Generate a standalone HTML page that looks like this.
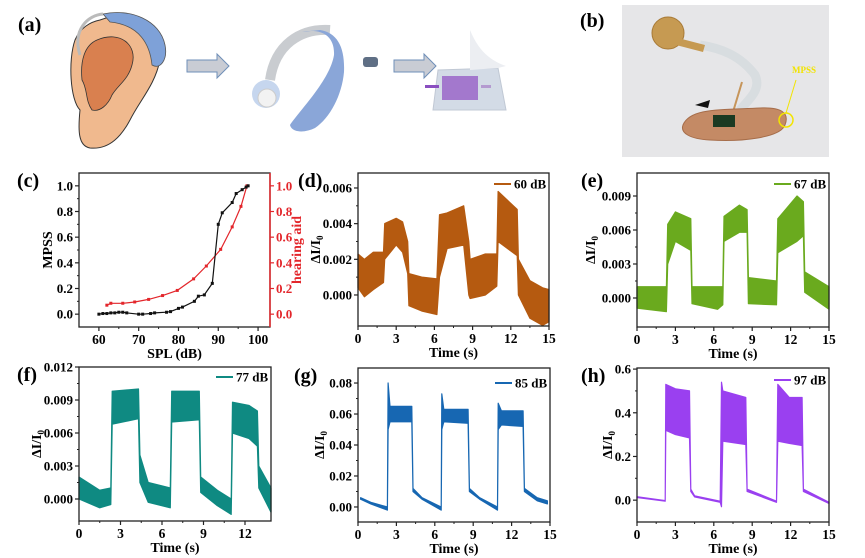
<!DOCTYPE html>
<html><head><meta charset="utf-8">
<style>
html,body{margin:0;padding:0;background:#fff;}
svg{display:block;}
text{font-family:"Liberation Serif",serif;font-weight:bold;}
</style></head>
<body>
<svg id="fig" width="865" height="558" viewBox="0 0 865 558" xmlns="http://www.w3.org/2000/svg">
  <g>
    <text x="18" y="31" font-size="20">(a)</text>
    <g>
      <path d="M100,20 C140,5 168,30 160,60 C155,85 140,100 130,120 C122,135 110,150 90,148 C78,146 78,130 80,110 C70,100 68,60 75,40 C80,28 90,22 100,20 Z" fill="#f0b98e" stroke="#333" stroke-width="1"/>
      <path d="M97,40 C120,30 138,45 132,65 C128,80 118,85 112,95 C108,105 100,112 92,110 C85,100 88,90 82,80 C80,60 85,45 97,40 Z" fill="#d9804f" stroke="#333" stroke-width="0.8"/>
      <path d="M103,14 C130,8 160,20 165,45 C168,60 160,70 152,65 C150,45 140,25 110,22 Z" fill="#7ea1d8" stroke="#555" stroke-width="0.8"/>
      <path d="M80,55 C72,30 88,15 103,14" fill="none" stroke="#bbb" stroke-width="3"/>
    </g>
    <path d="M187,60 h30 v-6 l12,12 l-12,12 v-6 h-30 z" fill="#c9ccd4" stroke="#6f8fb8" stroke-width="1"/>
    <g>
      <path d="M270,80 C275,45 300,28 330,30" fill="none" stroke="#c9ccd0" stroke-width="10"/>
      <path d="M302,32 C320,28 335,35 334,55 C330,80 300,110 290,125 C292,133 305,133 315,128 C330,118 342,95 344,72 C345,48 338,33 320,30 Z" fill="#8aa6d8"/>
      <circle cx="266" cy="94" r="14" fill="#c6d6ee"/>
      <circle cx="267" cy="98" r="9" fill="#f2f2f2" stroke="#ccc"/>
      <rect x="363" y="57" width="15" height="10" rx="3" fill="#5f6f85"/>
    </g>
    <path d="M394,60 h30 v-6 l12,12 l-12,12 v-6 h-30 z" fill="#c9ccd4" stroke="#6f8fb8" stroke-width="1"/>
    <g>
      <path d="M438,70 L498,68 L506,110 L433,110 Z" fill="#d3dbe6" stroke="#c0c8d4"/>
      <path d="M470,30 C480,55 495,62 506,66 L498,68 L470,70 Z" fill="#eceef2"/>
      <rect x="442" y="76" width="36" height="24" fill="#9a66c8" opacity="0.85"/>
      <rect x="425" y="85" width="14" height="3" fill="#8a4fc0"/>
      <rect x="481" y="85" width="10" height="3" fill="#b49ad0"/>
    </g>
  </g>
  <g>
    <text x="580" y="27" font-size="20">(b)</text>
    <rect x="622" y="5" width="207" height="152" fill="#e6e6e8"/>
    <path d="M700,45 C720,48 740,55 755,75 C762,90 748,100 740,110" fill="none" stroke="#d8dde0" stroke-width="9"/>
    <circle cx="668" cy="33" r="16" fill="#c69a52" stroke="#a87a36"/>
    <path d="M678,38 L705,45 L703,52 L676,45 Z" fill="#c69a52"/>
    <path d="M742,82 L733,112" stroke="#c6955a" stroke-width="2"/>
    <path d="M683,125 C690,108 720,110 760,108 C780,107 790,112 785,125 C780,138 740,142 710,140 C690,139 680,133 683,125 Z" fill="#c48a65" stroke="#a66d4a"/>
    <rect x="713" y="115" width="22" height="12" fill="#1b3a22"/>
    <path d="M695,105 L710,100 L708,108 Z" fill="#111"/>
    <circle cx="786" cy="120" r="7" fill="none" stroke="#f2e400" stroke-width="1.5"/>
    <path d="M786,113 L796,80" stroke="#f2e400" stroke-width="1"/>
    <text x="792" y="73" font-size="9" fill="#f2e400">MPSS</text>
  </g>
  <g id="charts"></g>
</svg>
<script>
const cMpssX = [60,61,62,63,64,65,66,67,70,71,73,74,77,78,80,81,84,85,86.5,88.5,90,91,93.5,94.5,96,97,97.5];
const cMpssY = [0.0,0.005,0.005,0.01,0.01,0.015,0.015,0.01,0.0,0.0,0.005,0.01,0.015,0.02,0.045,0.055,0.1,0.14,0.15,0.24,0.7,0.79,0.87,0.94,0.97,0.99,1.0];
const cAidX = [62,63,66,69,72.5,76,79.7,83.8,87,90.6,93.5,95.7,97.2];
const cAidY = [0.07,0.085,0.085,0.095,0.115,0.145,0.185,0.275,0.375,0.505,0.68,0.84,1.0];
const cXTicks = [60,70,80,90,100];
const cXTickLabels = ["60","70","80","90","100"];
const cYTicks = [0,0.2,0.4,0.6,0.8,1.0];
const cYTickLabels = ["0.0","0.2","0.4","0.6","0.8","1.0"];

const dT  = [0,0.5,1.2,2.0,2.1,3.0,3.5,3.9,4.0,5.0,6.2,6.4,7.0,8.3,8.7,8.8,10,10.9,11.0,12.5,12.6,13.5,14.5,15];
const dHi = [2.3,2.0,2.4,2.4,4.0,4.3,4.1,3.0,1.2,1.0,0.9,4.5,4.6,5.0,3.0,2.0,2.3,2.3,5.8,4.8,2.0,0.8,0.4,0.3];
const dLo = [0.4,-0.1,0.3,0.7,2.0,2.8,2.4,1.2,-0.6,-0.9,-1.1,1.0,2.6,2.8,0.0,-0.2,0.0,0.5,3.0,2.2,0.0,-1.3,-1.7,-1.5];
const dYTicks = [0,2,4,6];
const dYTickLabels = ["0.000","0.002","0.004","0.006"];

const eT  = [0,2.3,2.4,3.0,4.2,4.3,6.3,6.7,6.8,8.0,8.6,8.7,10.9,11.0,12.5,13.0,13.1,15];
const eHi = [1.0,1.0,6.5,7.6,7.0,1.0,1.0,1.0,7.2,8.2,7.8,1.8,1.5,7.0,9.0,8.5,2.3,1.0];
const eLo = [-0.9,-1.2,3.0,5.0,4.2,-0.5,-1.0,-0.6,5.0,5.8,5.8,-0.5,-0.6,4.0,5.0,5.5,0.5,-1.0];
const eYTicks = [0,3,6,9];
const eYTickLabels = ["0.000","0.003","0.006","0.009"];

const fT  = [0,1.5,2.3,2.4,4.3,4.4,5.0,6.6,6.7,8.7,8.8,10,11,11.1,12.3,12.9,13.0,13.88];
const fHi = [2.0,0.8,1.0,9.8,10.0,4.0,1.5,1.0,9.8,9.8,2.0,0.8,0.0,8.8,8.5,8.0,3.0,1.0];
const fLo = [0.0,-0.8,-0.5,6.8,7.3,1.5,-0.3,-0.8,7.0,7.2,0.6,-0.6,-1.4,6.0,5.5,4.8,1.0,-1.2];
const fYTicks = [0,3,6,9,12];
const fYTickLabels = ["0.000","0.003","0.006","0.009","0.012"];

const gT  = [0.2,1,2.3,2.35,2.5,4.2,4.3,5,6.5,6.55,6.7,8.6,8.7,9.5,10.9,10.95,11.2,12.9,13.0,14,14.8];
const gHi = [0.006,0.003,0.0,0.08,0.065,0.065,0.012,0.006,0.0,0.073,0.063,0.063,0.012,0.006,0.0,0.067,0.062,0.062,0.012,0.006,0.004];
const gLo = [0.005,0.002,-0.002,0.05,0.055,0.055,0.010,0.005,-0.002,0.05,0.055,0.054,0.010,0.005,-0.002,0.05,0.053,0.052,0.010,0.004,0.002];
const gYTicks = [0,0.02,0.04,0.06,0.08];
const gYTickLabels = ["0.00","0.02","0.04","0.06","0.08"];

const hT  = [0,2.2,2.25,3,4.1,4.2,4.5,6.5,6.6,6.7,8.5,8.6,10.9,11.0,11.9,12.9,13.0,15];
const hHi = [0.016,-0.002,0.53,0.51,0.50,0.05,0.02,-0.005,0.54,0.50,0.47,0.05,-0.005,0.53,0.47,0.47,0.05,-0.01];
const hLo = [0.012,-0.005,0.32,0.30,0.285,0.04,0.015,-0.01,-0.03,0.27,0.255,0.04,-0.01,0.27,0.26,0.25,0.04,-0.015];
const hYTicks = [0,0.2,0.4,0.6];
const hYTickLabels = ["0.0","0.2","0.4","0.6"];

const timeTicks = [0,3,6,9,12,15];
const timeTickLabels = ["0","3","6","9","12","15"];
const fTimeTicks = [0,3,6,9,12];
const fTimeTickLabels = ["0","3","6","9","12"];

const NS = "http://www.w3.org/2000/svg";
const root = document.getElementById("charts");
function mk(tag, parent) { const e = document.createElementNS(NS, tag); parent.appendChild(e); return e; }
function lin(d0, d1, r0, r1) { return v => r0 + (v - d0) * (r1 - r0) / (d1 - d0); }

function axes(g, cfg, sx, sy) {
  const box = mk("rect", g);
  box.setAttribute("x", cfg.x0); box.setAttribute("y", cfg.y0);
  box.setAttribute("width", cfg.x1 - cfg.x0); box.setAttribute("height", cfg.y1 - cfg.y0);
  box.setAttribute("fill", "none"); box.setAttribute("stroke", "#222"); box.setAttribute("stroke-width", "1.3");
  
  
  cfg.xt.forEach((v, i) => {
    const X = sx(v);
    const t = mk("line", g);
    t.setAttribute("x1", X); t.setAttribute("x2", X); t.setAttribute("y1", cfg.y1); t.setAttribute("y2", cfg.y1 + 4);
    t.setAttribute("stroke", "#222"); t.setAttribute("stroke-width", "1.2");
    
    
    if (i < cfg.xt.length - 1) {
      const m = mk("line", g); const MX = sx((v + cfg.xt[i + 1]) / 2);
      m.setAttribute("x1", MX); m.setAttribute("x2", MX); m.setAttribute("y1", cfg.y1); m.setAttribute("y2", cfg.y1 + 2);
      m.setAttribute("stroke", "#222");
      
      
    }
    const l = mk("text", g);
    l.setAttribute("x", X); l.setAttribute("y", cfg.y1 + 17); l.setAttribute("font-size", "13.5");
    l.setAttribute("text-anchor", "middle"); l.textContent = cfg.xl[i];
    
    
  });
  const xt = mk("text", g);
  xt.setAttribute("x", (cfg.x0 + cfg.x1) / 2); xt.setAttribute("y", cfg.y1 + 31); xt.setAttribute("font-size", "14");
  xt.setAttribute("text-anchor", "middle"); xt.textContent = cfg.xTitle;
  
  
  cfg.yt.forEach((v, i) => {
    const Y = sy(v);
    const t = mk("line", g);
    t.setAttribute("x1", cfg.x0 - 4); t.setAttribute("x2", cfg.x0); t.setAttribute("y1", Y); t.setAttribute("y2", Y);
    t.setAttribute("stroke", "#222"); t.setAttribute("stroke-width", "1.2");
    
    
    if (i < cfg.yt.length - 1) {
      const m = mk("line", g); const MY = sy((v + cfg.yt[i + 1]) / 2);
      m.setAttribute("x1", cfg.x0 - 2); m.setAttribute("x2", cfg.x0); m.setAttribute("y1", MY); m.setAttribute("y2", MY);
      m.setAttribute("stroke", "#222");
      
      
    }
    const l = mk("text", g);
    l.setAttribute("x", cfg.x0 - 6); l.setAttribute("y", Y + 4.5); l.setAttribute("font-size", "13");
    l.setAttribute("text-anchor", "end"); l.textContent = cfg.yl[i];
    
    
  });
  const yt = mk("text", g);
  const ty = (cfg.y0 + cfg.y1) / 2;
  yt.setAttribute("transform", "translate(" + cfg.yTitleX + "," + ty + ") rotate(-90)");
  yt.setAttribute("font-size", "14"); yt.setAttribute("text-anchor", "middle");
  
  
  if (cfg.yTitle === "dI") {
    yt.textContent = "ΔI/I";
    const s = mk("tspan", yt); s.setAttribute("font-size", "9"); s.setAttribute("dy", "3"); s.textContent = "0";
  } else yt.textContent = cfg.yTitle;
  const pl = mk("text", g);
  pl.setAttribute("x", cfg.labX); pl.setAttribute("y", cfg.y0 + 14); pl.setAttribute("font-size", "20");
  pl.textContent = cfg.label;
  
  
}

function timePanel(cfg, T, HI, LO, scale) {
  const g = mk("g", root);
  
  
  const sx = lin(0, cfg.xmax, cfg.x0, cfg.x1);
  const sy = lin(cfg.ymin, cfg.ymax, cfg.y1, cfg.y0);
  let d = "";
  for (let i = 0; i < T.length; i++) d += (i ? "L" : "M") + sx(T[i]).toFixed(1) + "," + sy(HI[i] * scale).toFixed(1);
  for (let i = T.length - 1; i >= 0; i--) d += "L" + sx(T[i]).toFixed(1) + "," + sy(LO[i] * scale).toFixed(1);
  d += "Z";
  const p = mk("path", g);
  p.setAttribute("d", d); p.setAttribute("fill", cfg.color); p.setAttribute("stroke", cfg.color);
  p.setAttribute("stroke-width", "1.2"); p.setAttribute("stroke-linejoin", "round");
  
  
  axes(g, cfg, sx, sy);
  const ll = mk("line", g);
  ll.setAttribute("x1", cfg.x1 - 55); ll.setAttribute("x2", cfg.x1 - 38);
  ll.setAttribute("y1", cfg.legY); ll.setAttribute("y2", cfg.legY);
  ll.setAttribute("stroke", cfg.color); ll.setAttribute("stroke-width", "2");
  
  
  const lt = mk("text", g);
  lt.setAttribute("x", cfg.x1 - 35); lt.setAttribute("y", cfg.legY + 4.5); lt.setAttribute("font-size", "13");
  lt.textContent = cfg.legend;
  
  
}

(function () {
  const g = mk("g", root);
  
  
  const cfg = { x0: 79, x1: 270, y0: 173, y1: 327, xt: cXTicks, xl: cXTickLabels, yt: cYTicks, yl: cYTickLabels,
    xTitle: "SPL (dB)", yTitle: "MPSS", yTitleX: 52, labX: 17, label: "(c)" };
  const sx = lin(55, 103, 79, 270);
  const sy = lin(-0.1, 1.1, 327, 173);
  function series(X, Y, col, name) {
    let d = "";
    X.forEach((v, i) => d += (i ? "L" : "M") + sx(v).toFixed(1) + "," + sy(Y[i]).toFixed(1));
    const p = mk("path", g);
    p.setAttribute("d", d); p.setAttribute("fill", "none"); p.setAttribute("stroke", col); p.setAttribute("stroke-width", "1.2");
    
    
    X.forEach((v, i) => {
      const r = mk("rect", g);
      r.setAttribute("x", sx(v) - 1.5); r.setAttribute("y", sy(Y[i]) - 1.5); r.setAttribute("width", 3); r.setAttribute("height", 3);
      r.setAttribute("fill", col);
      
      
    });
  }
  series(cAidX, cAidY, "#e3262b", "hearing-aid-line");
  series(cMpssX, cMpssY, "#111", "mpss-line");
  axes(g, cfg, sx, sy);
  const ra = mk("line", g);
  ra.setAttribute("x1", 270); ra.setAttribute("x2", 270); ra.setAttribute("y1", 173); ra.setAttribute("y2", 327);
  ra.setAttribute("stroke", "#e3262b"); ra.setAttribute("stroke-width", "1.5");
  
  
  cYTicks.forEach((v, i) => {
    const t = mk("line", g);
    t.setAttribute("x1", 270); t.setAttribute("x2", 274); t.setAttribute("y1", sy(v)); t.setAttribute("y2", sy(v));
    t.setAttribute("stroke", "#e3262b"); t.setAttribute("stroke-width", "1.2");
    
    
    const l = mk("text", g);
    l.setAttribute("x", 276); l.setAttribute("y", sy(v) + 4.5); l.setAttribute("font-size", "13"); l.setAttribute("fill", "#e3262b");
    l.textContent = cYTickLabels[i];
    
    
  });
  const rt = mk("text", g);
  rt.setAttribute("transform", "translate(301,250) rotate(-90)");
  rt.setAttribute("font-size", "14"); rt.setAttribute("text-anchor", "middle"); rt.setAttribute("fill", "#e3262b");
  rt.textContent = "hearing aid";
  
  
})();

timePanel({ name: "panel-d-chart", x0: 358, x1: 549, y0: 173, y1: 326, xmax: 15, ymin: -0.00174, ymax: 0.00684,
  xt: timeTicks, xl: timeTickLabels, yt: dYTicks.map(v => v / 1000), yl: dYTickLabels, xTitle: "Time (s)", yTitle: "dI",
  yTitleX: 320, labX: 298, label: "(d)", color: "#b55a10", legend: "60 dB", legY: 184 }, dT, dHi, dLo, 0.001);

timePanel({ name: "panel-e-chart", x0: 637, x1: 829, y0: 173, y1: 327, xmax: 15, ymin: -0.00256, ymax: 0.01103,
  xt: timeTicks, xl: timeTickLabels, yt: eYTicks.map(v => v / 1000), yl: eYTickLabels, xTitle: "Time (s)", yTitle: "dI",
  yTitleX: 595, labX: 581, label: "(e)", color: "#6aaa1e", legend: "67 dB", legY: 184 }, eT, eHi, eLo, 0.001);

timePanel({ name: "panel-f-chart", x0: 79, x1: 271, y0: 367, y1: 521, xmax: 13.88, ymin: -0.002, ymax: 0.012,
  xt: fTimeTicks, xl: fTimeTickLabels, yt: fYTicks.map(v => v / 1000), yl: fYTickLabels, xTitle: "Time (s)", yTitle: "dI",
  yTitleX: 41, labX: 17, label: "(f)", color: "#0f8a82", legend: "77 dB", legY: 377 }, fT, fHi, fLo, 0.001);

timePanel({ name: "panel-g-chart", x0: 358, x1: 550, y0: 368, y1: 522, xmax: 15, ymin: -0.0097, ymax: 0.0897,
  xt: timeTicks, xl: timeTickLabels, yt: gYTicks, yl: gYTickLabels, xTitle: "Time (s)", yTitle: "dI",
  yTitleX: 324, labX: 294, label: "(g)", color: "#1767b2", legend: "85 dB", legY: 383 }, gT, gHi, gLo, 1);

timePanel({ name: "panel-h-chart", x0: 637, x1: 829, y0: 368, y1: 522, xmax: 15, ymin: -0.1, ymax: 0.605,
  xt: timeTicks, xl: timeTickLabels, yt: hYTicks, yl: hYTickLabels, xTitle: "Time (s)", yTitle: "dI",
  yTitleX: 612, labX: 581, label: "(h)", color: "#9a40f0", legend: "97 dB", legY: 380 }, hT, hHi, hLo, 1);
</script>
</body></html>
